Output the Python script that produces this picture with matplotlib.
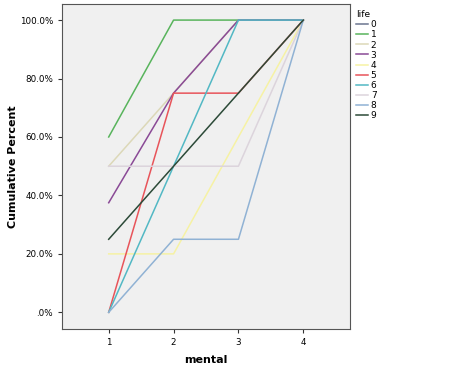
import numpy as np
import matplotlib
matplotlib.use('Agg')
import matplotlib.pyplot as plt
from matplotlib.ticker import FuncFormatter

# mental categories and cumulative percent for each life group
mental = [1, 2, 3, 4]
life = ['0', '1', '2', '3', '4', '5', '6', '7', '8', '9']
cum = {
    '0': [np.nan, np.nan, np.nan, 100.0],
    '1': [60.0, 100.0, 100.0, 100.0],
    '2': [50.0, 75.0, 100.0, 100.0],
    '3': [37.5, 75.0, 100.0, 100.0],
    '4': [20.0, 20.0, 60.0, 100.0],
    '5': [0.0, 75.0, 75.0, 100.0],
    '6': [0.0, 50.0, 100.0, 100.0],
    '7': [50.0, 50.0, 50.0, 100.0],
    '8': [0.0, 25.0, 25.0, 100.0],
    '9': [25.0, 50.0, 75.0, 100.0],
}
colors = ['#6b7590', '#58b45c', '#dcd8b8', '#8a4a96', '#f6f2a4',
          '#e8545a', '#52b8c4', '#dcd4dc', '#90b2d4', '#2c4a38']

fig = plt.figure(figsize=(4.68, 3.74), dpi=100)
ax = fig.add_axes([62/468, 1 - 329/374, 288/468, 325/374])
ax.set_facecolor('#f0f0f0')

for name, c in zip(life, colors):
    ax.plot(mental, cum[name], color=c, linewidth=1.1, label=name)

ax.set_xlim(0.28, 4.72)
ax.set_ylim(-5.7, 105.5)
ax.set_xticks(mental)
ax.set_yticks([0, 20, 40, 60, 80, 100])
ax.yaxis.set_major_formatter(FuncFormatter(
    lambda v, p: '.0%' if v == 0 else '%.1f%%' % v))
ax.tick_params(labelsize=6.3, length=3, color='#333333')
for s in ax.spines.values():
    s.set_color('#555555')

ax.set_xlabel('mental', fontsize=8, fontweight='bold', labelpad=6)
ax.set_ylabel('Cumulative Percent', fontsize=8, fontweight='bold', labelpad=1)

leg = ax.legend(title='life', loc='upper left', bbox_to_anchor=(1.0, 1.0),
                frameon=False, fontsize=6.5, title_fontsize=6.5,
                handlelength=1.3, handletextpad=0.3, labelspacing=0.12,
                borderaxespad=0.3)
leg._legend_box.align = 'left'

plt.savefig('out.png', dpi=100)
plt.close()
